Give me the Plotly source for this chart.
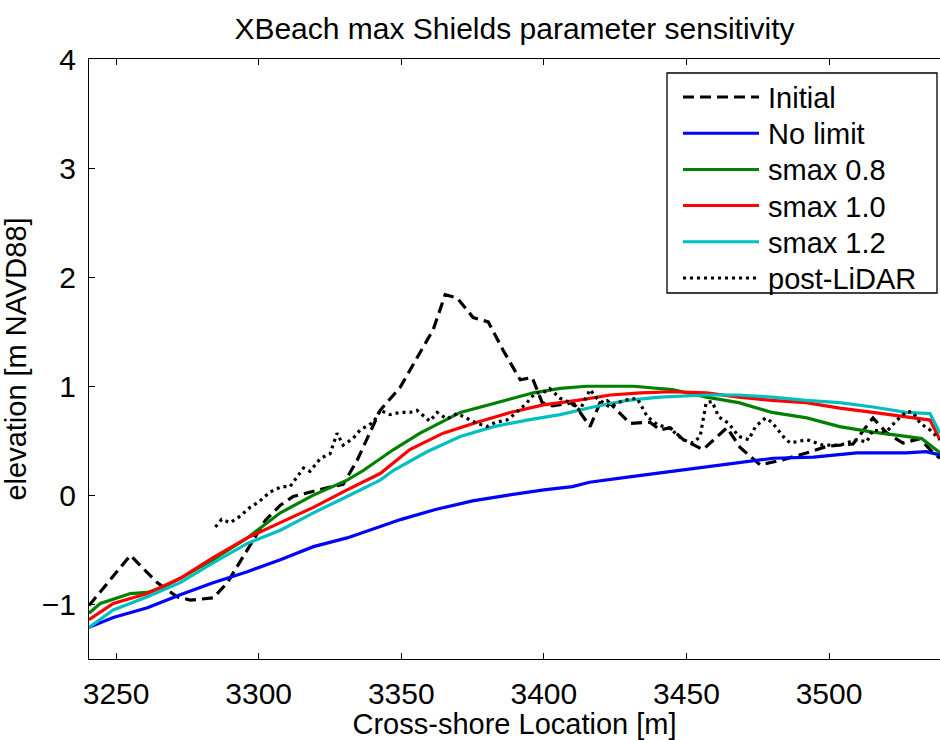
import plotly.graph_objects as go

# ---- profile data: cross-shore location [m] and elevation [m NAVD88] ----
initial_x = [3240.5, 3255.0, 3264.4, 3271.4, 3276.0, 3284.1, 3289.0, 3298.1, 3302.3, 3307.6,
             3312.1, 3324.0, 3329.6, 3334.5, 3339.8, 3342.6, 3349.6, 3356.6, 3361.2, 3365.4,
             3369.6, 3375.2, 3380.5, 3385.7, 3391.7, 3395.9, 3399.4, 3403.0, 3410.3, 3416.2,
             3419.7, 3422.2, 3430.2, 3437.2, 3440.7, 3444.3, 3448.9, 3455.8, 3464.2, 3468.8,
             3475.8, 3482.8, 3492.3, 3499.3, 3508.4, 3515.4, 3520.3, 3525.9, 3531.9, 3536.5,
             3538.9]
initial_y = [-1.01, -0.55, -0.80, -0.93, -0.96, -0.94, -0.80, -0.41, -0.23, -0.09,
             -0.01, 0.07, 0.10, 0.32, 0.63, 0.78, 0.99, 1.31, 1.52, 1.84,
             1.81, 1.63, 1.59, 1.33, 1.06, 1.08, 0.85, 0.82, 0.85, 0.63,
             0.85, 0.87, 0.66, 0.67, 0.60, 0.62, 0.51, 0.42, 0.62, 0.44,
             0.28, 0.32, 0.39, 0.45, 0.47, 0.71, 0.57, 0.48, 0.52, 0.39,
             0.34]

nolimit_x = [3240.5, 3249.0, 3261.0, 3272.5, 3284.0, 3296.0, 3307.6, 3319.2, 3331.0, 3342.6,
             3350.0, 3362.0, 3375.0, 3387.0, 3400.0, 3410.0, 3416.0, 3430.0, 3447.7, 3466.0,
             3480.5, 3494.5, 3509.8, 3527.0, 3534.0, 3538.9]
nolimit_y = [-1.21, -1.12, -1.03, -0.91, -0.80, -0.70, -0.59, -0.47, -0.39, -0.29,
             -0.22, -0.13, -0.05, 0.00, 0.05, 0.08, 0.12, 0.17, 0.23, 0.29,
             0.34, 0.35, 0.39, 0.39, 0.40, 0.37]

smax08_x = [3240.5, 3244.5, 3255.0, 3261.0, 3266.6, 3272.5, 3284.0, 3296.0, 3307.6, 3319.0,
            3331.0, 3336.8, 3347.3, 3356.6, 3370.7, 3384.7, 3396.3, 3405.7, 3415.0, 3431.4,
            3445.0, 3457.0, 3468.3, 3480.0, 3492.2, 3503.7, 3515.4, 3527.0, 3532.5, 3538.9]
smax08_y = [-1.08, -0.99, -0.90, -0.89, -0.84, -0.76, -0.59, -0.39, -0.16, 0.00,
            0.14, 0.23, 0.42, 0.57, 0.76, 0.86, 0.94, 0.98, 1.00, 1.00,
            0.97, 0.90, 0.85, 0.76, 0.71, 0.63, 0.58, 0.54, 0.52, 0.39]

smax10_x = [3240.5, 3249.0, 3261.0, 3272.5, 3284.0, 3296.0, 3307.6, 3319.2, 3331.0, 3342.6,
            3353.0, 3364.7, 3376.6, 3388.2, 3399.8, 3411.7, 3423.3, 3433.9, 3445.0, 3457.0,
            3468.3, 3480.0, 3492.0, 3503.7, 3515.4, 3527.0, 3535.4, 3538.9]
smax10_y = [-1.14, -0.99, -0.90, -0.76, -0.57, -0.39, -0.25, -0.11, 0.05, 0.20,
            0.42, 0.57, 0.67, 0.76, 0.83, 0.87, 0.92, 0.94, 0.95, 0.94,
            0.90, 0.87, 0.85, 0.80, 0.76, 0.72, 0.69, 0.51]

smax12_x = [3240.5, 3249.0, 3261.0, 3272.5, 3284.0, 3296.0, 3307.6, 3319.2, 3331.0, 3342.6,
            3347.3, 3359.0, 3370.7, 3382.4, 3394.1, 3405.7, 3417.3, 3429.2, 3440.7, 3457.0,
            3468.3, 3480.0, 3492.0, 3503.7, 3515.4, 3527.0, 3535.4, 3538.9]
smax12_y = [-1.21, -1.05, -0.93, -0.80, -0.62, -0.44, -0.32, -0.16, -0.01, 0.14,
            0.23, 0.40, 0.54, 0.63, 0.69, 0.74, 0.81, 0.87, 0.90, 0.92,
            0.92, 0.90, 0.87, 0.85, 0.81, 0.76, 0.75, 0.57]

lidar_x = [3284.8, 3287.0, 3290.0, 3293.0, 3297.0, 3300.0, 3304.0, 3308.0, 3311.0, 3315.7,
           3318.0, 3321.7, 3325.0, 3327.5, 3329.6, 3333.0, 3335.6, 3340.2, 3342.6, 3346.0,
           3349.6, 3353.0, 3355.5, 3360.0, 3362.6, 3366.0, 3369.6, 3374.0, 3376.6, 3380.0,
           3383.0, 3387.0, 3390.0, 3394.1, 3397.0, 3399.7, 3402.0, 3405.7, 3409.2, 3412.6,
           3416.2, 3418.6, 3423.1, 3427.8, 3432.7, 3436.3, 3439.7, 3444.3, 3448.9, 3452.3,
           3454.8, 3456.9, 3459.0, 3461.3, 3464.8, 3468.3, 3471.8, 3474.2, 3477.7, 3480.0,
           3483.9, 3486.3, 3492.2, 3497.8, 3503.7, 3509.7, 3513.2, 3515.4, 3520.0, 3523.8,
           3527.3, 3529.4, 3532.0, 3535.4, 3538.9]
lidar_y = [-0.29, -0.22, -0.25, -0.20, -0.11, -0.06, 0.03, 0.08, 0.08, 0.25,
           0.22, 0.34, 0.38, 0.57, 0.46, 0.52, 0.60, 0.67, 0.78, 0.74,
           0.76, 0.76, 0.78, 0.68, 0.76, 0.70, 0.75, 0.69, 0.66, 0.63,
           0.67, 0.69, 0.75, 0.85, 0.94, 0.94, 0.98, 0.89, 0.85, 0.78,
           0.97, 0.89, 0.81, 0.87, 0.89, 0.72, 0.65, 0.61, 0.51, 0.48,
           0.54, 0.85, 0.86, 0.72, 0.66, 0.54, 0.51, 0.63, 0.71, 0.67,
           0.54, 0.48, 0.51, 0.46, 0.46, 0.51, 0.49, 0.60, 0.58, 0.69,
           0.77, 0.76, 0.66, 0.60, 0.51]

series_names = ["Initial", "No limit", "smax 0.8", "smax 1.0", "smax 1.2", "post-LiDAR"]
series_x = [initial_x, nolimit_x, smax08_x, smax10_x, smax12_x, lidar_x]
series_y = [initial_y, nolimit_y, smax08_y, smax10_y, smax12_y, lidar_y]
series_colors = ["#000000", "#0000ff", "#008000", "#ff0000", "#00bfbf", "#000000"]
series_dash = ["11px,6px", "solid", "solid", "solid", "solid", "3px,4px"]

x_ticks = [3250, 3300, 3350, 3400, 3450, 3500]
y_ticks = [-1, 0, 1, 2, 3, 4]

FONT = "Liberation Sans, Arial, Helvetica, sans-serif"

fig = go.Figure()
for name, xs, ys, col, dash in zip(series_names, series_x, series_y, series_colors, series_dash):
    fig.add_trace(go.Scatter(x=xs, y=ys, mode="lines", name=name, showlegend=False,
                             line=dict(color=col, width=3.2, dash=dash)))

# legend drawn as a boxed key in plot-paper coordinates
L, T, B, W, H = 89, 59, 81, 940, 740
PW, PH = W - L, H - T - B


def px(xp):
    return (xp - L) / PW


def py(yp):
    return (H - B - yp) / PH


shapes = [dict(type="rect", xref="paper", yref="paper",
               x0=px(667), x1=px(937), y0=py(293), y1=py(73),
               line=dict(color="black", width=1.3), fillcolor="white", layer="above")]
annotations = []
row0, step = 97, 36.2
for i, (name, col, dash) in enumerate(zip(series_names, series_colors, series_dash)):
    yy = row0 + i * step
    shapes.append(dict(type="line", xref="paper", yref="paper",
                       x0=px(683), x1=px(759), y0=py(yy), y1=py(yy),
                       line=dict(color=col, width=3, dash=dash), layer="above"))
    annotations.append(dict(xref="paper", yref="paper", x=px(766), y=py(yy + 1),
                            text=name, showarrow=False, xanchor="left", yanchor="middle",
                            font=dict(family=FONT, size=29, color="black")))

fig.update_layout(
    width=W, height=H,
    margin=dict(l=L, r=0, t=T, b=B),
    paper_bgcolor="white", plot_bgcolor="white",
    font=dict(family=FONT, size=30, color="black"),
    title=dict(text="XBeach max Shields parameter sensitivity",
               x=0.5, xref="paper", xanchor="center", y=1 - 28 / H, yanchor="middle",
               font=dict(family=FONT, size=30, color="black")),
    shapes=shapes, annotations=annotations,
    xaxis=dict(range=[3240.5, 3538.9], tickvals=x_ticks, ticks="inside", ticklen=6,
               tickwidth=1, tickcolor="black", showline=True, linecolor="black", linewidth=1.3,
               mirror="ticks", showgrid=False, zeroline=False, ticklabelstandoff=8,
               tickfont=dict(family=FONT, size=30),
               title=dict(text="Cross-shore Location [m]", standoff=6,
                          font=dict(family=FONT, size=29))),
    yaxis=dict(range=[-1.5, 4], tickvals=y_ticks, ticks="inside", ticklen=6,
               tickwidth=1, tickcolor="black", showline=True, linecolor="black", linewidth=1.3,
               mirror=False, showgrid=False, zeroline=False, ticklabelstandoff=6,
               tickfont=dict(family=FONT, size=30),
               title=dict(text="elevation [m NAVD88]", standoff=12,
                          font=dict(family=FONT, size=29))),
    yaxis2=dict(range=[-1.5, 4], tickvals=y_ticks, ticks="inside", ticklen=6,
                tickwidth=1, tickcolor="black", overlaying="y", side="right",
                showticklabels=False, showline=False, showgrid=False, zeroline=False),
)

fig.write_html("out.html")
